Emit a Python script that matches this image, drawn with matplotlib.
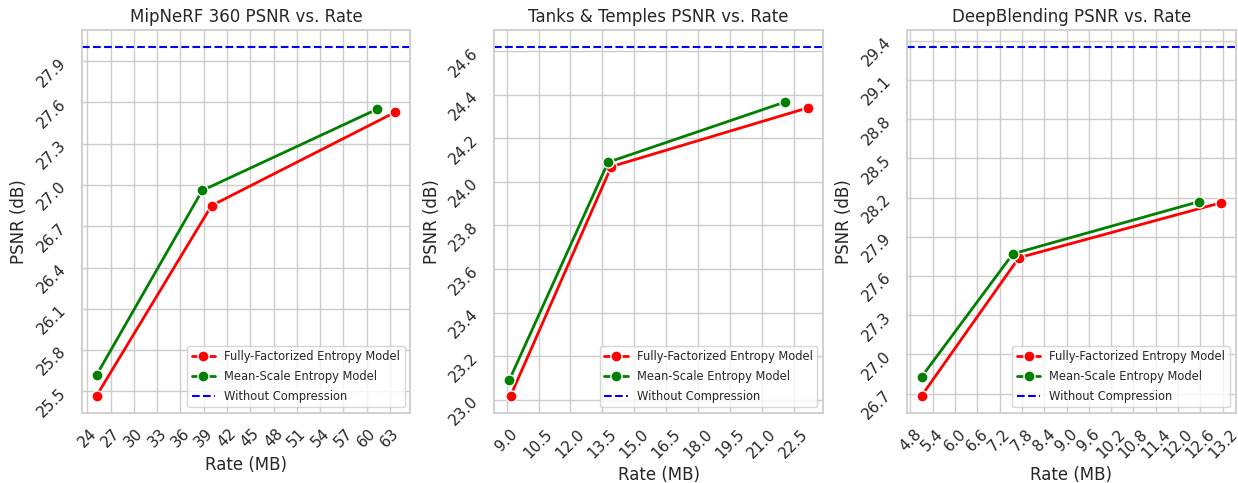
"""Rate-distortion curves (PSNR vs. rate) for three datasets."""

import matplotlib
matplotlib.use("Agg")
import matplotlib.pyplot as plt
import numpy as np
import seaborn as sns

# --- data ------------------------------------------------------------------
titles = ["MipNeRF 360", "Tanks & Temples", "DeepBlending"]

ff_rate = [[25.2, 40.0, 63.7], [9.19, 13.92, 23.17], [5.11, 7.72, 13.14]]
ff_psnr = [[25.47, 26.85, 27.53], [23.02, 24.07, 24.34], [26.685, 27.74, 28.16]]

ms_rate = [[25.2, 38.8, 61.3], [9.12, 13.77, 22.08], [5.11, 7.56, 12.57]]
ms_psnr = [[25.62, 26.96, 27.55], [23.09, 24.09, 24.366], [26.83, 27.77, 28.17]]

baseline_psnr = [28.0, 24.617, 29.35]

x_ticks = [
    np.arange(24, 64, 3),
    np.arange(9.0, 23.0, 1.5),
    np.arange(4.8, 13.3, 0.6),
]
y_ticks = [
    np.arange(25.5, 28.0, 0.3),
    np.arange(23.0, 24.7, 0.2),
    np.arange(26.7, 29.5, 0.3),
]
x_fmt = ["{:.0f}", "{:.1f}", "{:.1f}"]


def main() -> None:
    sns.set_theme(style="whitegrid")
    fig, axes = plt.subplots(1, 3, figsize=(12.38, 4.83), dpi=100)
    fig.subplots_adjust(left=0.066, right=0.998, top=0.938, bottom=0.145, wspace=0.255)

    for i, ax in enumerate(axes):
        ax.plot(ff_rate[i], ff_psnr[i], color="red", marker="o", lw=2,
                markersize=8, markeredgecolor="white", markeredgewidth=1,
                label="Fully-Factorized Entropy Model")
        ax.plot(ms_rate[i], ms_psnr[i], color="green", marker="o", lw=2,
                markersize=8, markeredgecolor="white", markeredgewidth=1,
                label="Mean-Scale Entropy Model")
        ax.axhline(baseline_psnr[i], color="blue", ls="--", lw=1.5,
                   label="Without Compression")

        xs = ff_rate[i] + ms_rate[i]
        ys = ff_psnr[i] + ms_psnr[i] + [baseline_psnr[i]]
        xpad = 0.05 * (max(xs) - min(xs))
        ypad = 0.05 * (max(ys) - min(ys))
        ax.set_xlim(min(xs) - xpad, max(xs) + xpad)
        ax.set_ylim(min(ys) - ypad, max(ys) + ypad)

        ax.set_xticks(x_ticks[i])
        ax.set_xticklabels([x_fmt[i].format(v) for v in x_ticks[i]], rotation=45)
        ax.set_yticks(y_ticks[i])
        ax.set_yticklabels([f"{v:.1f}" for v in y_ticks[i]], rotation=45)

        ax.set_title(f"{titles[i]} PSNR vs. Rate")
        ax.set_xlabel("Rate (MB)")
        ax.set_ylabel("PSNR (dB)")
        ax.legend(loc="lower right", fontsize=8.3, labelspacing=0.58)

    fig.savefig("out.png", dpi=100)


if __name__ == "__main__":
    main()
